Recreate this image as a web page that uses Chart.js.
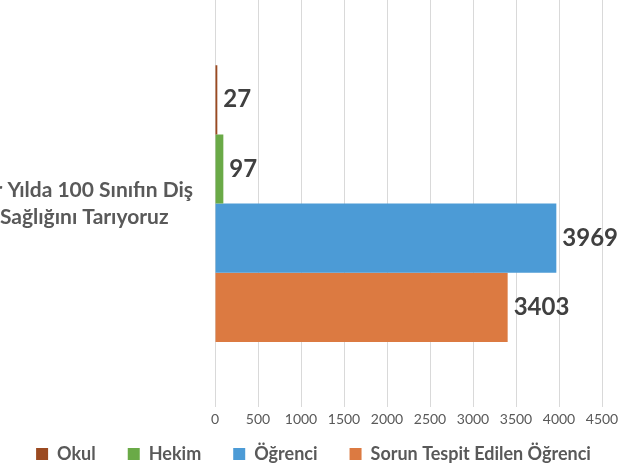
<!DOCTYPE html>
<html>
<head>
<meta charset="utf-8">
<script src="https://cdn.jsdelivr.net/npm/chart.js@4"></script>
<style>
  body { margin: 0; background: #fff; }
</style>
</head>
<body>
<canvas id="chart" width="627" height="468"></canvas>
<script>
// veri
const categories = [['Bir Yılda 100 Sınıfın Diş', 'Sağlığını Tarıyoruz']];
const seriesNames = ['Okul', 'Hekim', 'Öğrenci', 'Sorun Tespit Edilen Öğrenci'];
const seriesValues = [[27], [97], [3969], [3403]];
const seriesColors = ['#9b4a21', '#6aaa47', '#4c9bd6', '#dc7a41'];
const xTicks = [0, 500, 1000, 1500, 2000, 2500, 3000, 3500, 4000, 4500];

// barların sonuna değer yaz
const valueLabels = {
    id: 'valueLabels',
    afterLayout(chart) {
        // lejantı eksen yazılarına biraz yaklaştır
        chart.legend.top -= 19;
        chart.legend.bottom -= 19;
    },
    afterDatasetsDraw(chart) {
        const ctx = chart.ctx;
        ctx.save();
        ctx.font = 'bold 24px Lato';
        ctx.fillStyle = '#404040';
        ctx.textAlign = 'left';
        ctx.textBaseline = 'middle';
        chart.data.datasets.forEach((ds, i) => {
            const meta = chart.getDatasetMeta(i);
            meta.data.forEach((bar, k) => {
                ctx.fillText(ds.data[k], bar.x + 6, bar.y);
            });
        });
        ctx.restore();
    }
};

const datasets = seriesNames.map((name, i) => ({
    label: name,
    data: seriesValues[i],
    backgroundColor: seriesColors[i],
    categoryPercentage: 0.68,
    barPercentage: 1
}));

new Chart(document.getElementById('chart'), {
    type: 'bar',
    data: { labels: categories, datasets: datasets },
    plugins: [valueLabels],
    options: {
        responsive: false,
        animation: false,
        indexAxis: 'y',
        layout: { padding: { top: 0, right: 0, bottom: -24, left: 0 } },
        scales: {
            x: {
                min: 0,
                max: 4500,
                afterBuildTicks(scale) {
                    scale.ticks = xTicks.map(v => ({ value: v }));
                },
                afterFit(scale) { scale.paddingRight = 25; },
                grid: { color: '#d9d9d9', drawTicks: false },
                border: { display: false },
                ticks: {
                    callback: v => String(v),
                    color: '#595959',
                    font: { family: 'Lato', size: 14 },
                    padding: 4
                }
            },
            y: {
                grid: { display: false },
                border: { display: false },
                afterFit(scale) {
                    scale.width = 215;
                    scale.paddingTop = 0;
                    scale.paddingBottom = 0;
                },
                ticks: {
                    crossAlign: 'center',
                    padding: 14,
                    color: '#595959',
                    font: { family: 'Lato', size: 21, weight: 'bold', lineHeight: 1.3 }
                }
            }
        },
        plugins: {
            legend: {
                position: 'bottom',
                labels: {
                    boxWidth: 12,
                    boxHeight: 12,
                    padding: 32,
                    color: '#595959',
                    font: { family: 'Lato', size: 18, weight: 'bold' }
                }
            },
            tooltip: { enabled: false }
        }
    }
});
</script>
</body>
</html>
